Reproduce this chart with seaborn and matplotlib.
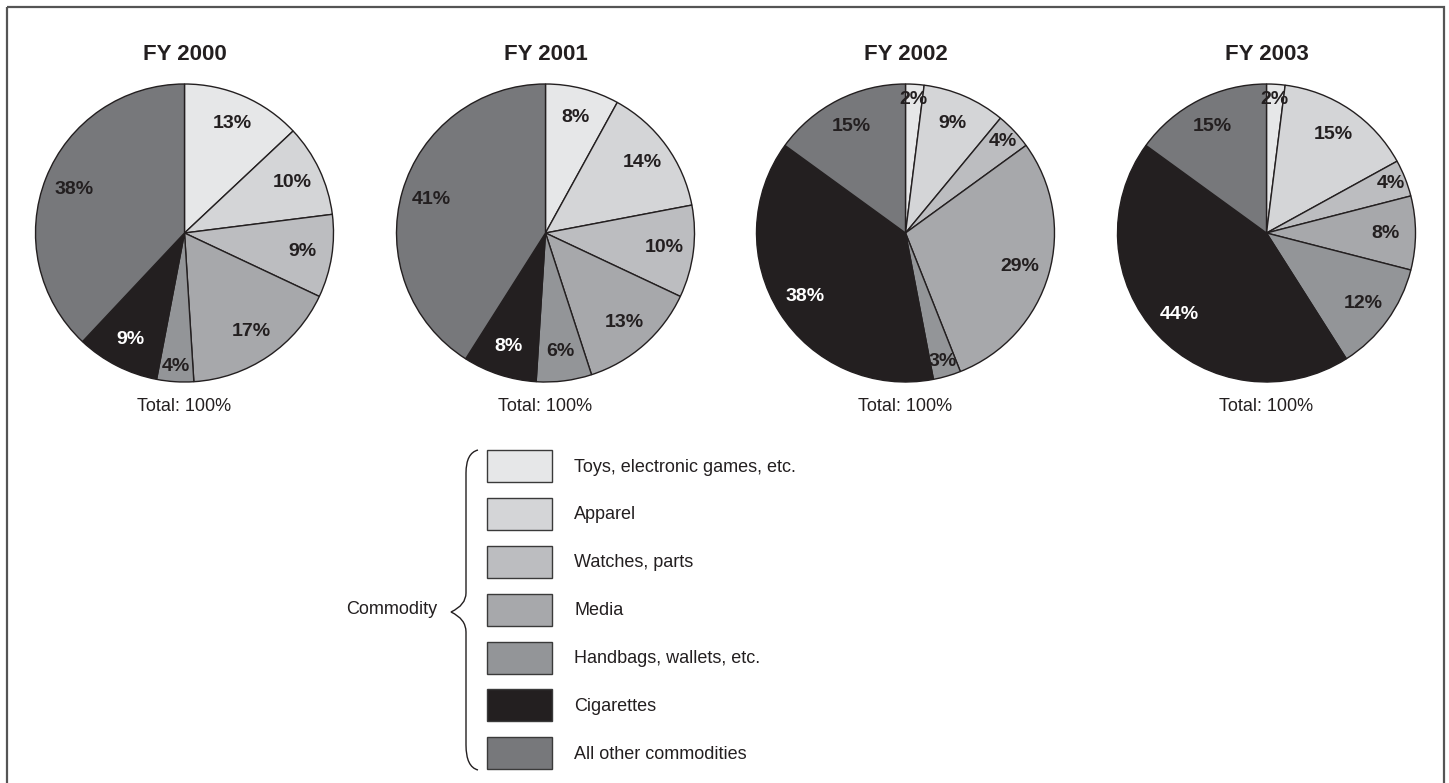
import matplotlib
matplotlib.use("Agg")
import numpy as np
import matplotlib.pyplot as plt
from matplotlib.patches import Patch, Rectangle, PathPatch
from matplotlib.path import Path
import seaborn as sns

# shares of seizures by commodity, percent
years = ["FY 2000", "FY 2001", "FY 2002", "FY 2003"]
commodities = ["Toys, electronic games, etc.", "Apparel", "Watches, parts", "Media",
               "Handbags, wallets, etc.", "Cigarettes", "All other commodities"]
fy2000 = [13, 10, 9, 17, 4, 9, 38]
fy2001 = [8, 14, 10, 13, 6, 8, 41]
fy2002 = [2, 9, 4, 29, 3, 38, 15]
fy2003 = [2, 15, 4, 8, 12, 44, 15]
shares = [fy2000, fy2001, fy2002, fy2003]
totals = ["Total: 100%"] * 4

grey_shades = ["#e6e7e8", "#d4d5d7", "#bcbdc0", "#a7a8ab", "#939598", "#231f20", "#77787b"]
dark = "#231f20"

sns.set_theme(style="white")
plt.rcParams["font.family"] = ["Liberation Sans", "DejaVu Sans"]
palette = sns.color_palette(grey_shades)

W, H = 1449, 783
fig = plt.figure(figsize=(W / 100, H / 100), dpi=100)

r = 149
cy = 233
centers = [184.5, 545.5, 905.5, 1266.5]

for cx, year, vals, tot in zip(centers, years, shares, totals):
    ax = fig.add_axes([(cx - r) / W, 1 - (cy + r) / H, 2 * r / W, 2 * r / H])
    wedges, _ = ax.pie(vals, colors=palette, startangle=90, counterclock=False,
                       wedgeprops=dict(edgecolor=dark, linewidth=1.0))
    for w, v, col in zip(wedges, vals, commodities):
        w.set_clip_on(False)
        mid = np.deg2rad((w.theta1 + w.theta2) / 2)
        d = 0.9 if v < 5 else 0.8
        tc = "white" if col == "Cigarettes" else dark
        ax.text(d * np.cos(mid), d * np.sin(mid), f"{v}%", ha="center", va="center",
                fontsize=14, fontweight="bold", color=tc)
    ax.set_xlim(-1, 1)
    ax.set_ylim(-1, 1)
    ax.set_aspect("equal")
    ax.axis("off")
    ax.text(0, 1.2, year, ha="center", va="center", fontsize=16, fontweight="bold",
            color=dark, clip_on=False)
    ax.text(0, -1.165, tot, ha="center", va="center", fontsize=13, color=dark,
            clip_on=False)

# legend: swatches 65x32 px, row pitch ~48 px
fs = 13
fpx = fs * 100 / 72
hh = (32 / fpx - 0.245) / 0.65
handles = [Patch(facecolor=c, edgecolor="#3a3a3a", linewidth=1.0) for c in palette]
fig.legend(handles, commodities, loc="upper left",
           bbox_to_anchor=(487 / W, 1 - 450 / H), frameon=False, fontsize=fs,
           handlelength=65 / fpx, handleheight=hh, labelspacing=(47.9 - 32) / fpx,
           handletextpad=(574 - 552) / fpx, borderpad=0, borderaxespad=0,
           labelcolor=dark)

# overlay for frame, brace and group label
ov = fig.add_axes([0, 0, 1, 1])
ov.set_xlim(0, W)
ov.set_ylim(H, 0)
ov.axis("off")
ov.patch.set_alpha(0)
ov.add_patch(Rectangle((7, 7), 1437, 800, fill=False, edgecolor="#555555",
                       linewidth=1.6, clip_on=False))
verts = [(478, 450), (466, 453), (466, 473), (466, 473),
         (466, 593), (466, 593), (466, 605), (451, 612),
         (466, 619), (466, 632), (466, 632),
         (466, 745), (466, 745), (466, 767), (478, 770)]
codes = [Path.MOVETO, Path.CURVE3, Path.CURVE3, Path.LINETO,
         Path.LINETO, Path.LINETO, Path.CURVE3, Path.CURVE3,
         Path.CURVE3, Path.CURVE3, Path.LINETO,
         Path.LINETO, Path.LINETO, Path.CURVE3, Path.CURVE3]
ov.add_patch(PathPatch(Path(verts, codes), fill=False, edgecolor=dark, linewidth=1.0))
ov.text(437, 610, "Commodity", ha="right", va="center", fontsize=13, color=dark)

fig.savefig("out.png", dpi=100)
